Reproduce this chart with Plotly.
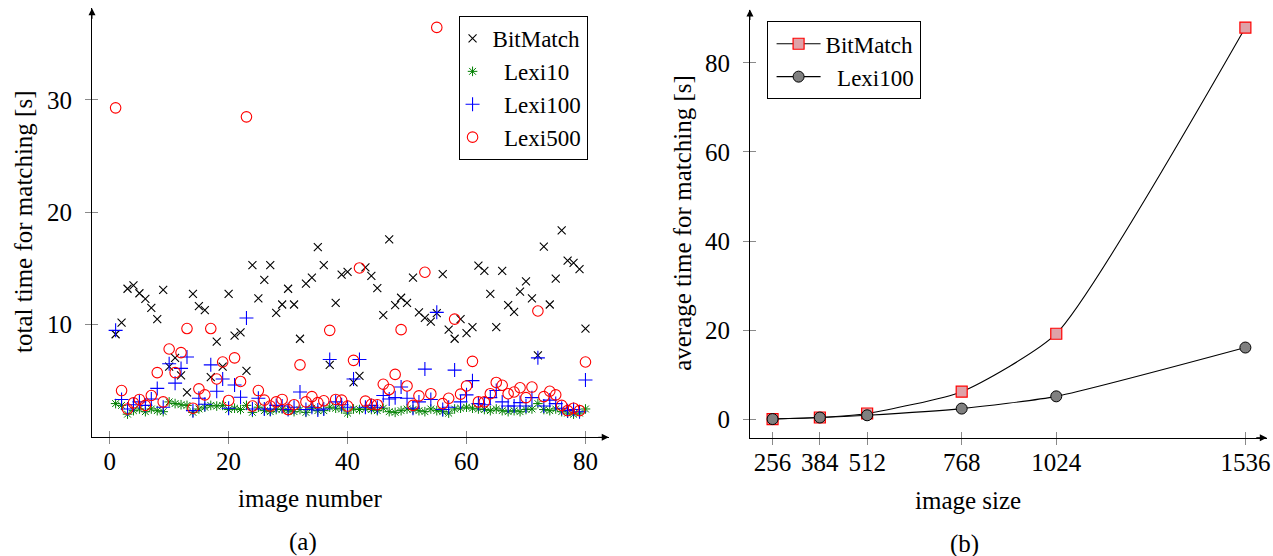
import plotly.graph_objects as go

W, H = 1273, 556
FONT = "Liberation Serif"

# ---------------- data: panel (a) ----------------
image_number = list(range(1, 81))
bitmatch = [9.15, 10.19, 13.2, 13.5, 12.8, 12.3, 11.5, 10.5, 13.1, 6.27,
            7.05, 5.49, 3.98, 12.75, 11.65, 11.3, 5.33, 8.5, 6.27, 12.75,
            9.03, 9.31, 5.89, 15.3, 12.35, 14.0, 15.3, 11.05, 11.8, 13.2,
            11.8, 8.75, 13.65, 14.2, 16.9, 15.3, 6.43, 11.95, 14.45, 14.7,
            4.86, 5.45, 15.1, 14.35, 13.25, 10.85, 17.6, 11.75, 12.4, 11.95,
            14.2, 11.1, 10.6, 10.28, 11.03, 14.5, 9.56, 8.75, 10.5, 9.25,
            9.78, 15.25, 14.8, 12.75, 9.78, 14.8, 11.75, 11.15, 12.95, 13.85,
            12.35, 7.27, 16.95, 11.8, 14.1, 18.4, 15.7, 15.5, 14.95, 9.66]
lexi10 = [2.98, 2.82, 2.04, 2.35, 2.5, 2.26, 2.5, 2.35, 2.26, 3.13,
          2.98, 2.88, 2.82, 2.2, 2.5, 2.66, 2.82, 2.76, 2.82, 2.45,
          2.57, 2.45, 2.82, 2.2, 2.66, 2.35, 2.26, 2.45, 2.5, 2.35,
          2.26, 2.45, 2.2, 2.57, 2.35, 2.35, 2.66, 2.57, 2.5, 2.13,
          2.5, 2.45, 2.5, 2.45, 2.35, 2.57, 2.26, 2.2, 2.35, 2.5,
          2.45, 2.35, 2.26, 2.5, 2.35, 2.26, 2.13, 2.5, 2.57, 2.66,
          2.57, 2.5, 2.45, 2.35, 2.5, 2.35, 2.26, 2.35, 2.26, 2.45,
          2.5, 2.98, 2.45, 2.35, 2.5, 2.26, 2.13, 2.04, 2.13, 2.5]
lexi100 = [9.5, 3.35, 2.5, 2.88, 3.13, 2.82, 3.39, 4.33, 2.66, 6.52,
           4.8, 6.11, 7.12, 2.35, 3.45, 2.92, 6.43, 4.08, 5.17, 2.57,
           4.64, 3.54, 10.6, 2.5, 3.45, 2.5, 2.5, 2.82, 2.76, 2.45,
           2.66, 4.01, 2.45, 2.66, 2.41, 2.5, 6.9, 3.13, 2.88, 2.66,
           5.17, 6.9, 2.66, 2.82, 2.66, 3.7, 3.39, 3.51, 4.45, 3.45,
           2.57, 3.13, 6.05, 3.35, 11.1, 2.45, 2.66, 5.96, 3.13, 3.76,
           5.02, 2.98, 2.88, 3.51, 4.14, 3.13, 2.76, 2.76, 3.07, 2.76,
           3.51, 7.05, 2.76, 3.29, 2.98, 2.57, 2.35, 2.45, 2.26, 5.08]
lexi500 = [29.3, 4.14, 2.5, 3.04, 3.35, 2.82, 3.7, 5.74, 3.13, 7.84,
           5.74, 7.52, 9.66, 2.57, 4.29, 3.76, 9.66, 5.17, 6.68, 3.26,
           7.05, 4.95, 28.5, 2.76, 4.14, 3.29, 2.76, 3.13, 3.35, 2.45,
           2.88, 6.43, 3.13, 3.6, 3.07, 3.23, 9.5, 3.35, 3.29, 2.76,
           6.83, 15.05, 3.2, 2.92, 2.88, 4.7, 4.23, 5.58, 9.56, 4.55,
           2.82, 3.67, 14.67, 3.86, 36.46, 2.98, 3.45, 10.5, 3.82, 4.55,
           6.74, 3.13, 3.13, 3.86, 4.86, 4.61, 3.86, 4.01, 4.39, 3.51,
           4.45, 11.22, 3.6, 4.08, 3.76, 2.82, 2.35, 2.57, 2.35, 6.68]
x_ticks_a = [0, 20, 40, 60, 80]
y_ticks_a = [10, 20, 30]

# ---------------- data: panel (b) ----------------
image_size = [256, 384, 512, 768, 1024, 1536]
avg_bitmatch = [0.05, 0.4, 1.3, 6.2, 19.2, 87.9]
avg_lexi100 = [0.05, 0.4, 0.9, 2.4, 5.15, 16.1]
x_ticks_b = [256, 384, 512, 768, 1024, 1536]
y_ticks_b = [0, 20, 40, 60, 80]

# ---------------- geometry ----------------
XA = [-2.97, 83.92]
YA = [-0.02, 38.16]
XB = [194.7, 1594.0]
YB = [-4.13, 91.95]
dom_xa = [92.3 / W, 610.7 / W]
dom_ya = [(H - 437.3) / H, (H - 8.3) / H]
dom_xb = [752.3 / W, 1270.8 / W]
dom_yb = [(H - 437.7) / H, (H - 9.5) / H]

fig = go.Figure()

# panel (a) traces
fig.add_trace(go.Scatter(x=image_number, y=bitmatch, mode="markers", name="BitMatch",
                         marker=dict(symbol="x-thin", size=8, color="black",
                                     line=dict(width=1.1, color="black")),
                         xaxis="x", yaxis="y", legend="legend"))
fig.add_trace(go.Scatter(x=image_number, y=lexi10, mode="markers", name="\u00a0\u00a0Lexi10",
                         marker=dict(symbol="asterisk-open", size=8, color="#008000",
                                     line=dict(width=1, color="#008000")),
                         xaxis="x", yaxis="y", legend="legend"))
fig.add_trace(go.Scatter(x=image_number, y=lexi100, mode="markers", name="\u00a0\u00a0Lexi100",
                         marker=dict(symbol="cross-thin", size=10, color="#0000ff",
                                     line=dict(width=1.1, color="#0000ff")),
                         xaxis="x", yaxis="y", legend="legend"))
fig.add_trace(go.Scatter(x=image_number, y=lexi500, mode="markers", name="\u00a0\u00a0Lexi500",
                         marker=dict(symbol="circle-open", size=10.5, color="#ff0000",
                                     line=dict(width=1.1, color="#ff0000")),
                         xaxis="x", yaxis="y", legend="legend"))

# panel (b) traces
fig.add_trace(go.Scatter(x=image_size, y=avg_bitmatch, mode="lines+markers", name="BitMatch",
                         line=dict(color="black", width=1.1, shape="spline", smoothing=0.55),
                         marker=dict(symbol="square", size=11, color="#dfa2a8",
                                     line=dict(width=1.2, color="#ff0000")),
                         xaxis="x2", yaxis="y2", legend="legend2"))
fig.add_trace(go.Scatter(x=image_size, y=avg_lexi100, mode="lines+markers", name="\u00a0\u00a0Lexi100",
                         line=dict(color="black", width=1.1, shape="spline", smoothing=0.55),
                         marker=dict(symbol="circle", size=11, color="#808080",
                                     line=dict(width=1, color="black")),
                         xaxis="x2", yaxis="y2", legend="legend2"))

# empty traces for overlay (inner tick) axes
fig.add_trace(go.Scatter(x=[], y=[], xaxis="x3", yaxis="y3", showlegend=False, hoverinfo="skip"))
fig.add_trace(go.Scatter(x=[], y=[], xaxis="x4", yaxis="y4", showlegend=False, hoverinfo="skip"))

tickfont = dict(family=FONT, size=25, color="black")
base = dict(showline=True, linecolor="black", linewidth=1, showgrid=False, zeroline=False,
            ticks="outside", ticklen=6, tickcolor="#8a8a8a", tickwidth=1,
            tickfont=tickfont, fixedrange=True, tickmode="array", ticklabeloverflow="allow")
inner = dict(showline=False, showgrid=False, zeroline=False, ticks="inside", ticklen=6,
             tickcolor="#8a8a8a", tickwidth=1, showticklabels=False, fixedrange=True,
             tickmode="array")

leg_common = dict(xanchor="left", yanchor="top", bgcolor="white", bordercolor="black",
                  borderwidth=1, font=dict(family=FONT, size=23, color="black"),
                  tracegroupgap=0)

fig.update_layout(
    width=W, height=H, autosize=False,
    margin=dict(l=0, r=0, t=0, b=0),
    paper_bgcolor="white", plot_bgcolor="white",
    font=dict(family=FONT, size=25, color="black"),
    xaxis=dict(domain=dom_xa, range=XA, tickvals=x_ticks_a, anchor="y", ticklabelstandoff=-4, **base),
    yaxis=dict(domain=dom_ya, range=YA, tickvals=y_ticks_a, anchor="x", ticklabelstandoff=8, **base),
    xaxis2=dict(domain=dom_xb, range=XB, tickvals=x_ticks_b, anchor="y2", ticklabelstandoff=-4, **base),
    yaxis2=dict(domain=dom_yb, range=YB, tickvals=y_ticks_b, anchor="x2", ticklabelstandoff=8, **base),
    xaxis3=dict(overlaying="x", anchor="y3", range=XA, tickvals=x_ticks_a, **inner),
    yaxis3=dict(overlaying="y", anchor="x3", range=YA, tickvals=y_ticks_a, **inner),
    xaxis4=dict(overlaying="x2", anchor="y4", range=XB, tickvals=x_ticks_b, **inner),
    yaxis4=dict(overlaying="y2", anchor="x4", range=YB, tickvals=y_ticks_b, **inner),
    legend=dict(x=460 / W, y=(H - 16) / H, itemwidth=30, indentation=-7, **leg_common),
    legend2=dict(x=769 / W, y=(H - 21.3) / H, itemwidth=44, indentation=4, **leg_common),
    showlegend=True,
)

arrow = dict(showarrow=True, arrowhead=2, arrowsize=1.4, arrowwidth=1, arrowcolor="black", text="")
annotations = [
    dict(x=XA[1], y=YA[0], xref="x", yref="y", ax=-12, ay=0, **arrow),
    dict(x=XA[0], y=YA[1], xref="x", yref="y", ax=0, ay=12, **arrow),
    dict(x=XB[1], y=YB[0], xref="x2", yref="y2", ax=-12, ay=0, **arrow),
    dict(x=XB[0], y=YB[1], xref="x2", yref="y2", ax=0, ay=12, **arrow),
]
titles = [
    ("total time for matching [s]", 24, 222, -90),
    ("image number", 311, 498, 0),
    ("(a)", 304, 542, 0),
    ("average time for matching [s]", 685, 223, -90),
    ("image size", 971, 500, 0),
    ("(b)", 968, 544, 0),
]
for txt, px, py, ang in titles:
    annotations.append(dict(text=txt, x=px / W, y=(H - py) / H, xref="paper", yref="paper",
                            xanchor="center", yanchor="middle", showarrow=False, textangle=ang,
                            font=dict(family=FONT, size=25, color="black")))
fig.update_layout(annotations=annotations)

fig.write_html("out.html")
